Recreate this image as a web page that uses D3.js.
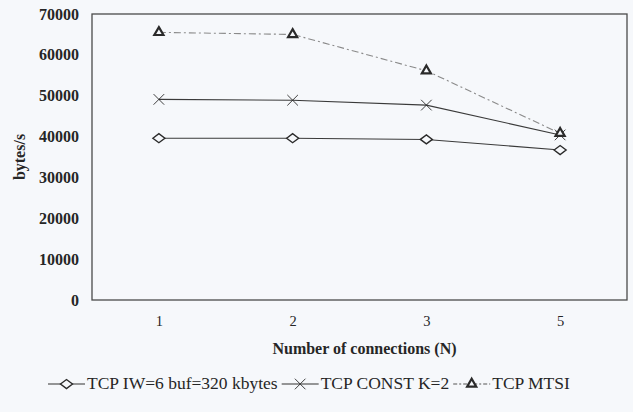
<!DOCTYPE html>
<html>
<head>
<meta charset="utf-8">
<script src="https://cdn.jsdelivr.net/npm/d3@7"></script>
<style>
  html, body { margin: 0; padding: 0; background: #f6f8fb; }
  svg { display: block; }
  text { font-family: "Liberation Serif", "Times New Roman", serif; fill: #262626; }
</style>
</head>
<body>
<svg id="chart" width="633" height="412"></svg>
<script>
// Throughput per number of parallel connections
const connections = ["1", "2", "3", "5"];
const yTicks = [0, 10000, 20000, 30000, 40000, 50000, 60000, 70000];

const seriesNames = ["TCP IW=6 buf=320 kbytes", "TCP CONST K=2", "TCP MTSI"];
const iwBufValues = [39600, 39600, 39300, 36700];
const constKValues = [49100, 48900, 47700, 40400];
const mtsiValues = [65500, 65000, 56100, 40800];

const svg = d3.select("#chart");
const W = 633, H = 412;
const margin = { left: 92, right: 6, top: 14, bottom: 112 };
const plotRight = W - margin.right, plotBottom = H - margin.bottom;

const x = d3.scalePoint().domain(connections).range([margin.left, plotRight]).padding(0.5);
const y = d3.scaleLinear().domain([0, 70000]).range([plotBottom, margin.top]);

const bg = "#f6f8fb";
const ink = "#3a3a3a";

// plot frame
svg.append("rect")
  .attr("x", margin.left).attr("y", margin.top)
  .attr("width", plotRight - margin.left).attr("height", plotBottom - margin.top)
  .attr("fill", "none").attr("stroke", "#4a4a4a").attr("stroke-width", 1.3);

// y axis labels
const yAxis = svg.append("g")
  .attr("transform", `translate(${margin.left},0)`)
  .call(d3.axisLeft(y).tickValues(yTicks).tickSize(0).tickPadding(13).tickFormat(d3.format("d")));
yAxis.select(".domain").remove();
yAxis.selectAll("text").attr("font-size", 16).attr("font-weight", "bold")
  .style("font-family", "'Liberation Serif', serif").attr("fill", "#262626");

// x axis labels
const xAxis = svg.append("g")
  .attr("transform", `translate(0,${plotBottom})`)
  .call(d3.axisBottom(x).tickSize(0).tickPadding(16));
xAxis.select(".domain").remove();
xAxis.selectAll("text").attr("font-size", 14.5)
  .style("font-family", "'Liberation Serif', serif").attr("fill", "#262626");

// axis titles
svg.append("text")
  .attr("x", (margin.left + plotRight) / 2 + 5).attr("y", 354)
  .attr("text-anchor", "middle").attr("font-size", 16).attr("font-weight", "bold")
  .text("Number of connections (N)");

svg.append("text")
  .attr("transform", `translate(25,157) rotate(-90)`)
  .attr("text-anchor", "middle").attr("font-size", 16).attr("font-weight", "bold")
  .text("bytes/s");

// marker shapes
const diamondPath = "M-6,0L0,-4.5L6,0L0,4.5Z";
const timesPath = d3.symbol(d3.symbolTimes, 75)();
const trianglePath = d3.symbol(d3.symbolTriangle, 36)();

const series = [
  { name: seriesNames[0], values: iwBufValues, path: diamondPath, dash: null, color: ink, mw: 1.4 },
  { name: seriesNames[1], values: constKValues, path: timesPath, dash: null, color: ink, mw: 0.9 },
  { name: seriesNames[2], values: mtsiValues, path: trianglePath, dash: "7,3,2,3", color: "#8a8a8a", mw: 2.2 }
];

const line = d3.line().x((d, i) => x(connections[i])).y(d => y(d));

series.forEach(s => {
  svg.append("path")
    .attr("d", line(s.values))
    .attr("fill", "none")
    .attr("stroke", s.color)
    .attr("stroke-width", 1.1)
    .attr("stroke-dasharray", s.dash);
});

series.forEach(s => {
  svg.append("g").selectAll("path")
    .data(s.values)
    .join("path")
    .attr("d", s.path)
    .attr("transform", (d, i) => `translate(${x(connections[i])},${y(d)})`)
    .attr("fill", s.path === timesPath ? "none" : bg)
    .attr("stroke", "#2a2a2a")
    .attr("stroke-width", s.mw);
});

// legend, laid out left to right
const legend = svg.append("g").attr("transform", "translate(48,389)");
let cx = 0;
series.forEach(s => {
  const item = legend.append("g").attr("transform", `translate(${cx},0)`);
  item.append("line")
    .attr("x1", 0).attr("x2", 37).attr("y1", -5).attr("y2", -5)
    .attr("stroke", s.color === ink ? "#333" : "#555").attr("stroke-width", 1.1)
    .attr("stroke-dasharray", s.dash ? "4,2,2,2" : null);
  item.append("path")
    .attr("d", s.path)
    .attr("transform", "translate(18.5,-5)")
    .attr("fill", s.path === timesPath ? "none" : bg)
    .attr("stroke", "#2a2a2a").attr("stroke-width", s.mw);
  const t = item.append("text")
    .attr("x", 39).attr("y", 0)
    .attr("font-size", 17.5)
    .text(s.name);
  cx += 39 + t.node().getComputedTextLength() + 4;
});
</script>
</body>
</html>
